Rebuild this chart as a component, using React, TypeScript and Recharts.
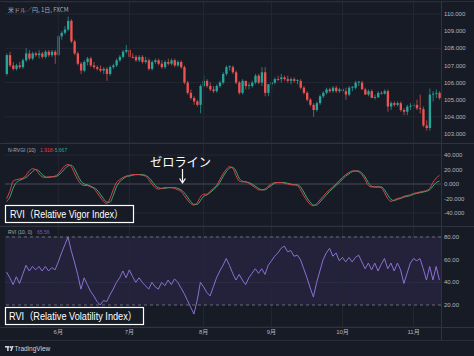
import {
  ComposedChart,
  Bar,
  Line,
  XAxis,
  YAxis,
  CartesianGrid,
  ReferenceLine,
  ReferenceArea,
} from 'recharts'

// USD/JPY daily, mid-May .. mid-Nov
const opens = [
  106.5, 107.6, 107.0, 106.8, 107.0, 106.9, 107.3, 107.7, 107.4, 107.7,
  107.6, 107.7, 107.5, 107.8, 107.6, 107.8, 107.6, 108.7, 108.9, 109.1,
  109.6, 108.4, 107.7, 107.1, 106.7, 107.2, 107.4, 107.0, 106.9, 106.8,
  106.7, 106.8, 106.5, 106.9, 107.0, 107.3, 107.5, 107.8, 107.9, 107.5,
  107.5, 107.3, 107.5, 107.2, 107.3, 106.8, 107.2, 107.3, 107.1, 106.9,
  107.2, 107.1, 107.3, 107.0, 107.2, 106.9, 106.0, 105.4, 105.1, 104.9,
  104.7, 105.8, 106.1, 105.8, 105.6, 105.5, 105.8, 106.0, 106.5, 106.9,
  106.9, 106.6, 106.0, 105.4, 106.1, 105.8, 105.8, 106.0, 106.4, 106.0,
  106.6, 105.4, 105.9, 106.0, 106.2, 106.2, 106.3, 106.2, 106.1, 106.2,
  106.1, 106.1, 105.7, 105.4, 105.0, 104.7, 104.4, 104.8, 105.2, 105.4,
  105.6, 105.5, 105.7, 105.5, 105.6, 105.5, 105.3, 105.7, 105.7, 106.0,
  106.0, 105.6, 105.3, 105.5, 105.1, 105.15, 105.4, 105.35, 105.5, 104.6,
  104.8, 104.7, 104.8, 104.4, 104.3, 104.6, 104.65, 104.7, 104.5, 104.45,
  103.5, 103.35, 105.3, 105.35, 105.4,
]
const highs = [
  107.7, 107.8, 107.2, 107.1, 107.2, 107.4, 108.0, 107.9, 107.8, 107.8,
  107.9, 107.8, 107.9, 107.9, 107.9, 107.9, 108.8, 109.0, 109.3, 109.85,
  109.7, 108.5, 107.8, 107.2, 107.3, 107.5, 107.5, 107.2, 107.0, 107.0,
  106.9, 106.9, 107.0, 107.1, 107.4, 107.6, 107.9, 108.2, 108.0, 107.7,
  107.6, 107.6, 107.6, 107.5, 107.4, 107.3, 107.4, 107.4, 107.3, 107.3,
  107.4, 107.4, 107.4, 107.3, 107.3, 107.0, 106.1, 105.6, 105.2, 105.0,
  105.9, 106.4, 106.2, 106.0, 105.8, 105.9, 106.1, 106.6, 107.0, 107.0,
  107.0, 106.7, 106.1, 106.2, 106.1, 106.0, 106.1, 106.5, 106.5, 106.9,
  106.9, 105.9, 106.1, 106.3, 106.4, 106.5, 106.4, 106.4, 106.3, 106.3,
  106.2, 106.2, 105.8, 105.5, 105.1, 104.8, 104.9, 105.3, 105.5, 105.7,
  105.7, 105.8, 105.8, 105.7, 105.7, 105.7, 105.8, 105.8, 106.1, 106.1,
  106.1, 105.7, 105.6, 105.6, 105.3, 105.5, 105.5, 105.6, 105.6, 104.9,
  104.9, 104.9, 104.9, 104.5, 104.7, 104.8, 104.8, 105.0, 105.3, 104.6,
  103.8, 105.65, 105.5, 105.6, 105.5,
]
const lows = [
  106.4, 106.9, 106.7, 106.7, 106.8, 106.8, 107.2, 107.3, 107.3, 107.5,
  107.4, 107.4, 107.4, 107.5, 107.5, 107.1, 107.5, 108.5, 108.8, 109.0,
  108.3, 107.6, 107.0, 106.5, 106.6, 107.0, 106.9, 106.8, 106.7, 106.6,
  106.5, 106.1, 106.4, 106.8, 106.9, 107.2, 107.4, 107.7, 107.4, 107.4,
  107.2, 107.2, 107.1, 107.1, 106.7, 106.7, 107.1, 107.0, 106.8, 106.8,
  107.0, 107.0, 106.9, 106.9, 106.8, 105.9, 105.3, 105.0, 104.7, 104.6,
  104.2, 105.7, 105.7, 105.5, 105.4, 105.4, 105.7, 105.9, 106.4, 106.7,
  106.5, 105.9, 105.3, 105.3, 105.6, 105.6, 105.7, 105.9, 105.9, 105.8,
  105.2, 105.2, 105.6, 105.9, 106.1, 106.0, 106.1, 106.0, 105.9, 106.0,
  105.9, 105.6, 105.3, 104.9, 104.6, 104.0, 104.3, 104.7, 105.1, 105.3,
  105.4, 105.4, 105.4, 105.4, 105.4, 105.0, 105.2, 105.5, 105.6, 105.8,
  105.6, 105.3, 105.2, 105.1, 105.0, 105.1, 105.3, 105.3, 104.3, 104.4,
  104.6, 104.6, 104.3, 104.1, 104.1, 104.4, 104.5, 104.4, 104.2, 103.4,
  103.2, 103.2, 104.9, 105.1, 105.0,
]
const closes = [
  107.6, 107.0, 106.8, 107.0, 106.9, 107.3, 107.7, 107.4, 107.7, 107.6,
  107.7, 107.5, 107.8, 107.6, 107.8, 107.6, 108.7, 108.9, 109.1, 109.6,
  108.4, 107.7, 107.1, 106.7, 107.2, 107.4, 107.0, 106.9, 106.8, 106.7,
  106.8, 106.5, 106.9, 107.0, 107.3, 107.5, 107.8, 107.9, 107.5, 107.45,
  107.3, 107.5, 107.2, 107.3, 106.8, 107.2, 107.3, 107.1, 106.9, 107.2,
  107.1, 107.3, 107.0, 107.2, 106.9, 106.0, 105.4, 105.1, 104.9, 104.7,
  105.8, 106.1, 105.8, 105.6, 105.5, 105.8, 106.0, 106.5, 106.9, 106.95,
  106.6, 106.0, 105.4, 106.1, 105.8, 105.85, 106.0, 106.4, 106.0, 106.6,
  105.4, 105.9, 106.0, 106.2, 106.15, 106.3, 106.2, 106.1, 106.2, 106.1,
  106.15, 105.7, 105.4, 105.0, 104.7, 104.4, 104.8, 105.2, 105.4, 105.6,
  105.5, 105.7, 105.5, 105.6, 105.5, 105.3, 105.7, 105.75, 106.0, 106.05,
  105.6, 105.3, 105.5, 105.1, 105.15, 105.4, 105.35, 105.5, 104.6, 104.8,
  104.7, 104.8, 104.4, 104.3, 104.6, 104.65, 104.7, 104.5, 104.45, 103.5,
  103.35, 105.3, 105.35, 105.4, 105.1,
]

// Relative Vigor Index and its signal line
const rvgi = [
  -20, -10, 4, 6, 7, 8, 12, 18, 21, 20,
  14, 10, 9, 10, 10, 11, 14, 20, 25, 27,
  24, 15, 6, 0, -2, -2, -4, -6, -12, -18,
  -24, -27, -20, -8, 2, 6, 9, 11, 12, 13,
  13, 13, 12, 11, 6, 0, -5, -7, -6, -5,
  -5, -5, -6, -8, -10, -16, -22, -27, -29, -26,
  -18, -14, -14, -10, -6, -2, 6, 14, 20, 24,
  22, 12, 4, 3, 3, 1, -2, -5, -8, -8,
  -7, -3, 0, 2, 2, 2, 1, 0, -1, -1,
  -2, -8, -16, -23, -28, -30, -27, -22, -17, -12,
  -8, -4, 0, 5, 9, 13, 16, 18, 18, 17,
  13, 6, -2, -4, -4, -4, -5, -12, -20, -24,
  -22, -20, -19, -17, -16, -15, -13, -12, -11, -10,
  -9, -6, 2, 8, 12,
]
const signal = [
  -24, -18, -6, 2, 5, 7, 9, 13, 17, 20,
  18, 13, 10, 9, 10, 10, 12, 16, 21, 25,
  26, 21, 12, 4, 0, -1, -3, -5, -8, -14,
  -20, -25, -25, -16, -4, 3, 7, 10, 11, 12,
  13, 13, 13, 12, 9, 4, -2, -5, -6, -6,
  -5, -5, -5, -6, -8, -12, -18, -24, -28, -28,
  -23, -17, -15, -12, -8, -4, 2, 10, 17, 22,
  23, 18, 8, 4, 3, 2, 0, -3, -6, -8,
  -8, -5, -2, 1, 2, 2, 2, 1, 0, -1,
  -1, -4, -11, -19, -25, -29, -29, -25, -20, -15,
  -10, -6, -2, 2, 7, 11, 14, 17, 18, 18,
  15, 10, 2, -3, -4, -4, -4, -8, -15, -21,
  -23, -21, -20, -18, -17, -16, -14, -13, -12, -11,
  -10, -8, -3, 2, 4,
]

// Relative Volatility Index
const rvi = [
  49, 44, 38, 45, 39, 47, 55, 50, 54, 51,
  54, 50, 54, 50, 53, 51, 58, 66, 73, 80,
  68, 58, 47, 34, 44, 38, 32, 28, 23, 20,
  24, 23, 29, 34, 40, 44, 50, 44, 51, 45,
  40, 44, 40, 37, 34, 40, 36, 34, 40, 37,
  42, 38, 43, 40, 35, 30, 24, 18, 12, 24,
  40, 36, 31, 28, 36, 44, 50, 55, 61, 55,
  48, 42, 47, 42, 38, 44, 48, 52, 48, 52,
  47, 55, 59, 63, 66, 70, 72, 67, 68, 63,
  64, 60, 52, 44, 35, 27, 40, 50, 60, 66,
  70, 63, 66, 59, 62, 58, 62, 58, 62, 64,
  58, 52, 57, 51, 57, 50, 56, 61, 52, 57,
  50, 57, 51, 39, 48, 57, 61, 59, 61, 52,
  42, 54, 42, 54, 42,
]

// first bar of each month
const monthIdx = [16, 38, 61, 82, 104, 126]
const monthLabels = ['6月', '7月', '8月', '9月', '10月', '11月']

const priceTicks = [103, 104, 105, 106, 107, 108, 109, 110]
const rvgiTicks = [-40, -20, 0, 20, 40]
const rviTicks = [20, 40, 60, 80]

const BG = '#171b26'
const GRID = '#242833'
const UP = '#26a69a'
const DOWN = '#ef5350'
const AXIS_TEXT = '#b2b5be'
const W = 474
const MARGIN = { top: 0, right: 0, bottom: 0, left: 5 }

const data = closes.map((c, i) => ({
  i,
  open: opens[i],
  high: highs[i],
  low: lows[i],
  close: c,
  rvgi: rvgi[i],
  signal: signal[i],
  rvi: rvi[i],
}))

function Candle(props: any) {
  const { x, y, width, height, payload } = props
  if (!payload || height == null) return null
  const { open, close, high, low } = payload
  const color = close >= open ? UP : DOWN
  const k = height / (high - low || 1)
  const yo = y + (high - open) * k
  const yc = y + (high - close) * k
  const cx = x + width / 2
  const bw = Math.max(1.6, width * 0.78)
  return (
    <g>
      <line x1={cx} x2={cx} y1={y} y2={y + height} stroke={color} strokeWidth={0.7} />
      <rect
        x={cx - bw / 2}
        y={Math.min(yo, yc)}
        width={bw}
        height={Math.max(0.8, Math.abs(yo - yc))}
        fill={color}
      />
    </g>
  )
}

const yTick = { fontSize: 6, fill: AXIS_TEXT, textAnchor: 'start' as const }

function monthLines() {
  return monthIdx.map((m) => (
    <ReferenceLine key={m} x={m} stroke={GRID} strokeWidth={1} />
  ))
}

export default function App() {
  return (
    <div
      style={{
        position: 'absolute',
        left: 0,
        top: 0,
        width: W,
        height: 356,
        background: BG,
        fontFamily: "'Liberation Sans', Arial, 'Noto Sans CJK JP', sans-serif",
        overflow: 'hidden',
      }}
    >
      {/* price pane */}
      <div style={{ position: 'absolute', left: 0, top: 0 }}>
        <ComposedChart width={W} height={143} data={data} margin={{ ...MARGIN, top: 2 }} barCategoryGap="10%">
          <CartesianGrid vertical={false} stroke={GRID} />
          <XAxis dataKey="i" type="category" scale="band" hide />
          <YAxis
            orientation="right"
            width={33}
            domain={[102.475, 110.7]}
            allowDataOverflow
            ticks={priceTicks}
            tickFormatter={(v: number) => v.toFixed(3)}
            axisLine={false}
            tickLine={false}
            tickSize={3}
            tickMargin={0}
            tick={yTick}
          />
          {monthLines()}
          <Bar
            dataKey={(d: any) => [d.low, d.high]}
            shape={Candle}
            isAnimationActive={false}
          />
        </ComposedChart>
      </div>

      {/* RVGI pane */}
      <div style={{ position: 'absolute', left: 0, top: 143 }}>
        <ComposedChart width={W} height={83} data={data} margin={MARGIN}>
          <CartesianGrid vertical={false} stroke={GRID} />
          <XAxis dataKey="i" type="category" scale="band" hide />
          <YAxis
            orientation="right"
            width={33}
            domain={[-57.9, 56.6]}
            allowDataOverflow
            ticks={rvgiTicks}
            tickFormatter={(v: number) => v.toFixed(3)}
            axisLine={false}
            tickLine={false}
            tickSize={3}
            tickMargin={0}
            tick={yTick}
          />
          {monthLines()}
          <ReferenceLine y={0} stroke="#434752" strokeWidth={1} />
          <Line dataKey="signal" type="monotone" stroke="#43a86a" strokeWidth={1} dot={false} isAnimationActive={false} />
          <Line dataKey="rvgi" type="monotone" stroke="#d9434c" strokeWidth={1} dot={false} isAnimationActive={false} />
        </ComposedChart>
      </div>

      {/* RVI pane + time axis */}
      <div style={{ position: 'absolute', left: 0, top: 226 }}>
        <ComposedChart width={W} height={114} data={data} margin={MARGIN}>
          <CartesianGrid vertical={false} stroke={GRID} />
          <XAxis
            dataKey="i"
            type="category"
            scale="band"
            height={13}
            ticks={monthIdx}
            interval={0}
            tickFormatter={(v: number) => monthLabels[monthIdx.indexOf(v)] ?? ''}
            axisLine={false}
            tickLine={false}
            tickSize={0}
            tickMargin={3}
            tick={{ fontSize: 6, fill: AXIS_TEXT }}
          />
          <YAxis
            orientation="right"
            width={33}
            domain={[0.6, 89.7]}
            allowDataOverflow
            ticks={rviTicks}
            tickFormatter={(v: number) => v.toFixed(2)}
            axisLine={false}
            tickLine={false}
            tickSize={3}
            tickMargin={0}
            tick={yTick}
          />
          <ReferenceArea y1={20} y2={80} fill="#7e57c2" fillOpacity={0.13} stroke="none" />
          {monthLines()}
          <ReferenceLine y={80} stroke="#6a6d78" strokeDasharray="3 3" />
          <ReferenceLine y={20} stroke="#6a6d78" strokeDasharray="3 3" />
          <Line dataKey="rvi" type="linear" stroke="#8a70d4" strokeWidth={1} dot={false} isAnimationActive={false} />
        </ComposedChart>
      </div>

      {/* frame, legends and annotations */}
      <svg width={W} height={356} style={{ position: 'absolute', left: 0, top: 0, pointerEvents: 'none' }}>
        <line x1={0} x2={W} y1={1.5} y2={1.5} stroke="#2a2e39" />
        <line x1={0} x2={W} y1={143.5} y2={143.5} stroke="#2f333e" />
        <line x1={0} x2={W} y1={226.5} y2={226.5} stroke="#2f333e" />
        <line x1={0} x2={W} y1={327.5} y2={327.5} stroke="#2f333e" />
        <line x1={0} x2={W} y1={340.5} y2={340.5} stroke="#2a2e39" />
        <line x1={441.5} x2={441.5} y1={2} y2={340} stroke="#2f333e" />

        <text x={8} y={11.5} fontSize={6} fill="#a8abb4" fontFamily="'Noto Sans CJK JP', sans-serif">
          米ドル／円, 1日, FXCM
        </text>

        <text x={8} y={152} fontSize={5} fill="#a8abb4">N-RVGI (10)</text>
        <text x={40} y={152} fontSize={5} fill="#f23645">1.918</text>
        <text x={53} y={152} fontSize={5} fill="#22ab94">-5.667</text>

        <text x={8} y={234} fontSize={5} fill="#a8abb4">RVI (10, 0)</text>
        <text x={37} y={234} fontSize={5} fill="#7e57c2">65.56</text>

        <text
          x={150}
          y={167}
          fontSize={12.5}
          fill="#ffffff"
          textLength={61}
          lengthAdjust="spacingAndGlyphs"
          fontFamily="'Noto Sans CJK JP', sans-serif"
        >
          ゼロライン
        </text>
        <line x1={182.5} x2={182.5} y1={169} y2={182} stroke="#ffffff" strokeWidth={1.2} />
        <path d="M179.6,178.5 L182.5,183 L185.4,178.5" fill="none" stroke="#ffffff" strokeWidth={1.2} />

        <rect x={5.5} y={205.5} width={128} height={17} fill={BG} stroke="#ffffff" strokeWidth={1.2} />
        <text
          x={10}
          y={218}
          fontSize={10.5}
          fill="#ffffff"
          textLength={113}
          lengthAdjust="spacingAndGlyphs"
        >
          RVI（Relative Vigor Index）
        </text>

        <rect x={5.5} y={307.5} width={138} height={17} fill={BG} stroke="#ffffff" strokeWidth={1.2} />
        <text
          x={9}
          y={320}
          fontSize={10.5}
          fill="#ffffff"
          textLength={128}
          lengthAdjust="spacingAndGlyphs"
        >
          RVI（Relative Volatility Index）
        </text>

        <g fill="#d1d4dc">
          <rect x={5} y={346} width={4.2} height={1.6} />
          <rect x={7.1} y={346} width={1.6} height={5} />
          <circle cx={10.4} cy={347} r={0.9} />
          <path d="M11.6,346 L13.6,346 L11.8,351 L10.2,351 Z" />
        </g>
        <text x={14.5} y={351} fontSize={6.5} fill="#d1d4dc">TradingView</text>
      </svg>
    </div>
  )
}
